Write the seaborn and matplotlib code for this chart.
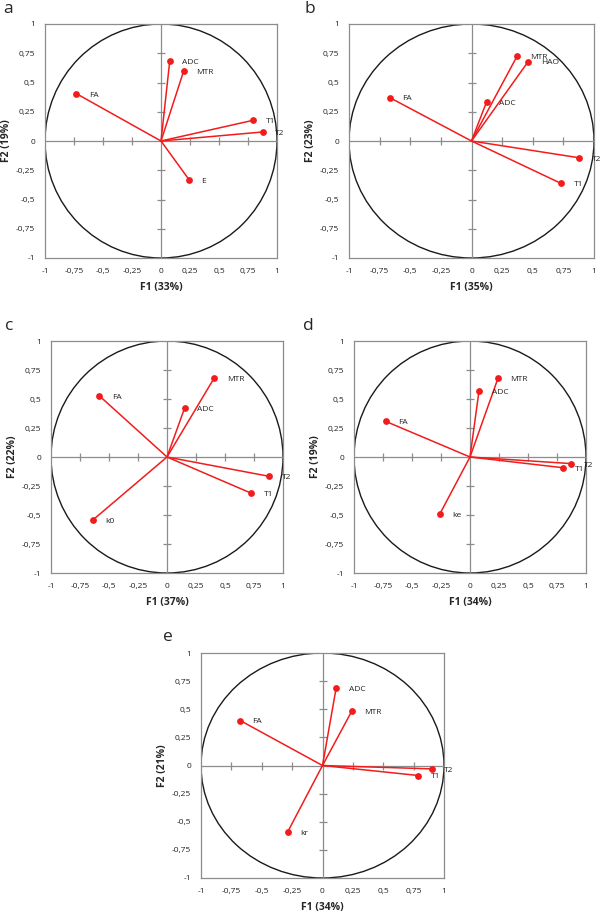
import numpy as np
import pandas as pd
import matplotlib
matplotlib.use("Agg")
import matplotlib.pyplot as plt
from matplotlib.patches import Ellipse
import seaborn as sns

sns.set_style("white")
plt.rcParams['font.family'] = ['Open Sans', 'DejaVu Sans']

# ============================================
# DATA: loadings of each variable on F1 / F2
# ============================================

labels_a = ["ADC", "MTR", "FA", "T1", "T2", "E"]
f1_a = [0.075, 0.196, -0.730, 0.794, 0.875, 0.242]
f2_a = [0.680, 0.600, 0.405, 0.177, 0.077, -0.331]

labels_b = ["MTR", "HAO", "ADC", "FA", "T2", "T1"]
f1_b = [0.373, 0.463, 0.123, -0.668, 0.877, 0.730]
f2_b = [0.727, 0.679, 0.334, 0.371, -0.143, -0.362]

labels_c = ["MTR", "ADC", "FA", "T2", "T1", "k0"]
f1_c = [0.407, 0.152, -0.585, 0.883, 0.728, -0.639]
f2_c = [0.681, 0.422, 0.529, -0.167, -0.313, -0.543]

labels_d = ["MTR", "ADC", "FA", "T2", "T1", "ke"]
f1_d = [0.242, 0.078, -0.726, 0.873, 0.798, -0.259]
f2_d = [0.681, 0.572, 0.307, -0.057, -0.092, -0.489]

labels_e = ["ADC", "MTR", "FA", "T2", "T1", "kr"]
f1_e = [0.112, 0.241, -0.678, 0.900, 0.790, -0.288]
f2_e = [0.687, 0.483, 0.400, -0.030, -0.089, -0.593]

panels = ["a", "b", "c", "d", "e"]
xlabels = ["F1 (33%)", "F1 (35%)", "F1 (37%)", "F1 (34%)", "F1 (34%)"]
ylabels = ["F2 (19%)", "F2 (23%)", "F2 (22%)", "F2 (19%)", "F2 (21%)"]

ticks = [-1, -0.75, -0.5, -0.25, 0, 0.25, 0.5, 0.75, 1]
tick_text = ["-1", "-0,75", "-0,5", "-0,25", "0", "0,25", "0,5", "0,75", "1"]

# ============================================
# LAYOUT (pixels in a 600 x 919 figure)
# ============================================

W, H = 600, 919
boxes = {
    "a": (45, 24, 277, 258),
    "b": (349, 24, 594, 258),
    "c": (51, 341, 283, 573),
    "d": (354, 341, 586, 573),
    "e": (201, 653, 444, 878),
}
letter_pos = {"a": (3, 9), "b": (305, 9), "c": (5, 326), "d": (303, 326), "e": (163, 637)}

data = {
    "a": (labels_a, f1_a, f2_a),
    "b": (labels_b, f1_b, f2_b),
    "c": (labels_c, f1_c, f2_c),
    "d": (labels_d, f1_d, f2_d),
    "e": (labels_e, f1_e, f2_e),
}

red = "#f21c1c"
grey = "#8c8c8c"

fig = plt.figure(figsize=(W / 100, H / 100), dpi=100)

for i, p in enumerate(panels):
    x0, y0, x1, y1 = boxes[p]
    ax = fig.add_axes([x0 / W, 1 - y1 / H, (x1 - x0) / W, (y1 - y0) / H])
    names, f1, f2 = data[p]
    df = pd.DataFrame({"var": names, "F1": f1, "F2": f2})

    # correlation circle + centre axes
    ax.add_patch(Ellipse((0, 0), 2, 2, fill=False, ec="#1a1a1a", lw=1.0, zorder=1))
    ax.axhline(0, color=grey, lw=0.9, zorder=1)
    ax.axvline(0, color=grey, lw=0.9, zorder=1)
    inner = [t for t in ticks if t not in (-1, 0, 1)]
    ax.plot(inner, [0] * len(inner), ls="none", marker="|", ms=6, mew=0.9, color=grey, zorder=1)
    ax.plot([0] * len(inner), inner, ls="none", marker="_", ms=6, mew=0.9, color=grey, zorder=1)

    # vectors
    for _, r in df.iterrows():
        ax.plot([0, r["F1"]], [0, r["F2"]], color=red, lw=1.1, zorder=2)
    sns.scatterplot(data=df, x="F1", y="F2", ax=ax, color=red, s=24,
                    edgecolor=red, linewidth=0, zorder=3, legend=False)
    for _, r in df.iterrows():
        ax.annotate(r["var"], (r["F1"], r["F2"]), xytext=(9, -1),
                    textcoords="offset points", fontsize=6, va="center",
                    ha="left", color="#222222", zorder=4)

    ax.set_xlim(-1, 1)
    ax.set_ylim(-1, 1)
    ax.set_xticks(ticks)
    ax.set_xticklabels(tick_text)
    ax.set_yticks(ticks)
    ax.set_yticklabels(tick_text)
    ax.tick_params(length=0, labelsize=6, pad=7, colors="#222222")
    for s in ax.spines.values():
        s.set_color(grey)
        s.set_linewidth(0.9)
    ax.set_xlabel(xlabels[i], fontsize=7.5, fontweight="bold", labelpad=5)
    ax.set_ylabel(ylabels[i], fontsize=7.5, fontweight="bold", labelpad=3)

    lx, ly = letter_pos[p]
    fig.text(lx / W, 1 - ly / H, p, fontsize=12.5, va="center", ha="left")

fig.savefig("out.png", dpi=100)
